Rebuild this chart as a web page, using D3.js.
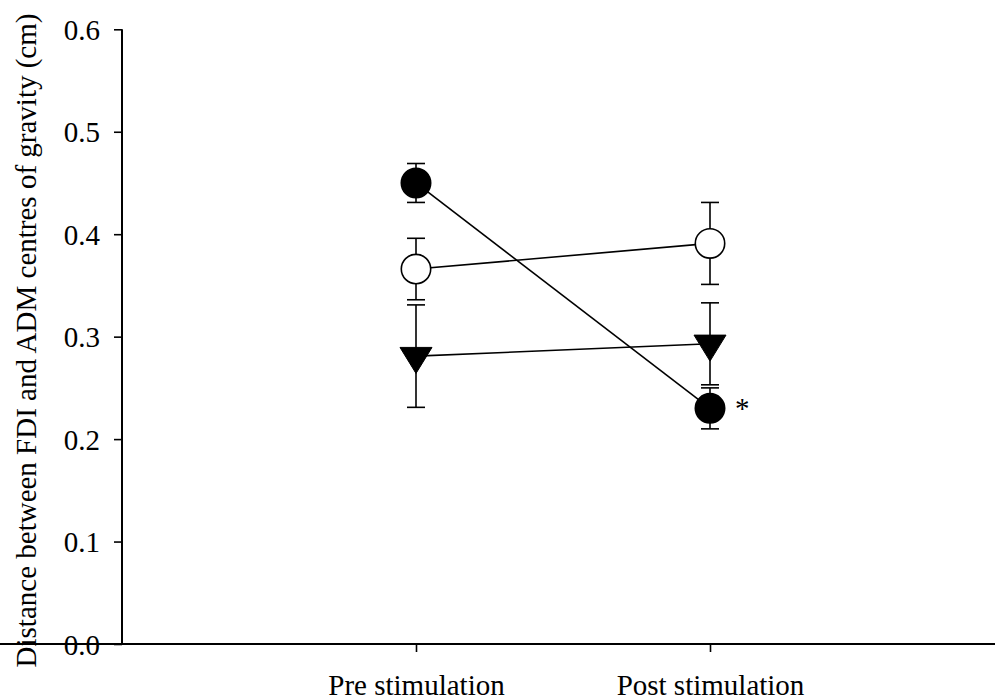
<!DOCTYPE html>
<html>
<head>
<meta charset="utf-8">
<script src="https://cdn.jsdelivr.net/npm/d3@7"></script>
<style>
  body { margin: 0; background: #fff; }
  text { font-family: "Liberation Serif", "Times New Roman", serif; fill: #000; }
</style>
</head>
<body>
<svg id="chart" width="995" height="700"></svg>
<script>
// ----------

const CONDITIONS = ["Pre stimulation", "Post stimulation"];
const FILLED_CIRCLE_MEAN = [0.450, 0.230];
const FILLED_CIRCLE_ERR = [0.019, 0.020];
const OPEN_CIRCLE_MEAN = [0.366, 0.391];
const OPEN_CIRCLE_ERR = [0.030, 0.040];
const TRIANGLE_MEAN = [0.281, 0.293];
const TRIANGLE_ERR = [0.050, 0.040];
const Y_TICKS = [0.0, 0.1, 0.2, 0.3, 0.4, 0.5, 0.6];
const Y_LABEL = "Distance between FDI and ADM centres of gravity (cm)";
const SIGNIFICANT = ["", "*"];

const FONT_SIZE = 29;

// ----------

const svg = d3.select("#chart");

const x = d3.scalePoint().domain(CONDITIONS).range([122, 1004]).padding(1);
const y = d3.scaleLinear().domain([0, 0.6]).range([644, 29.3]);

// axes
const yAxis = svg.append("g")
  .attr("transform", "translate(122,0)")
  .call(d3.axisLeft(y).tickValues(Y_TICKS).tickFormat(d3.format(".1f")).tickSize(8).tickPadding(14));

const xAxis = svg.append("g")
  .attr("transform", "translate(0,644)")
  .call(d3.axisBottom(x).tickSize(8).tickPadding(22));

[yAxis, xAxis].forEach(function (g) {
  g.select(".domain").attr("stroke", "#000").attr("stroke-width", 2);
  g.selectAll(".tick line").attr("stroke", "#000").attr("stroke-width", 1.6);
  g.selectAll(".tick text").attr("font-size", FONT_SIZE).attr("font-family", null).attr("fill", "#000");
});
yAxis.select(".domain").attr("d", "M0,644V29.3");
xAxis.select(".domain").attr("d", "M0,0H1004");
yAxis.selectAll(".tick text").attr("dy", "0.35em");
xAxis.selectAll(".tick text").attr("dy", "0.71em");

svg.append("text")
  .attr("transform", "translate(36," + 340.5 + ") rotate(-90)")
  .attr("text-anchor", "middle")
  .attr("font-size", FONT_SIZE)
  .text(Y_LABEL);

// ----------

const series = [
  { mean: OPEN_CIRCLE_MEAN, err: OPEN_CIRCLE_ERR, shape: "circle", fill: "#fff" },
  { mean: TRIANGLE_MEAN, err: TRIANGLE_ERR, shape: "triangle", fill: "#000" },
  { mean: FILLED_CIRCLE_MEAN, err: FILLED_CIRCLE_ERR, shape: "circle", fill: "#000" }
];

const line = d3.line()
  .x(function (d, i) { return x(CONDITIONS[i]); })
  .y(function (d) { return y(d); });

// error bars
series.forEach(function (s) {
  s.mean.forEach(function (m, i) {
    const cx = x(CONDITIONS[i]);
    const g = svg.append("g").attr("stroke", "#000").attr("stroke-width", 1.6);
    g.append("line").attr("x1", cx).attr("x2", cx).attr("y1", y(m - s.err[i])).attr("y2", y(m + s.err[i]));
    [m - s.err[i], m + s.err[i]].forEach(function (v) {
      g.append("line").attr("x1", cx - 9).attr("x2", cx + 9).attr("y1", y(v)).attr("y2", y(v));
    });
  });
});

// connecting lines
series.forEach(function (s) {
  svg.append("path")
    .attr("d", line(s.mean))
    .attr("fill", "none")
    .attr("stroke", "#000")
    .attr("stroke-width", 1.6);
});

// markers
series.forEach(function (s) {
  s.mean.forEach(function (m, i) {
    const cx = x(CONDITIONS[i]);
    const cy = y(m);
    if (s.shape === "circle") {
      svg.append("circle")
        .attr("cx", cx).attr("cy", cy).attr("r", 14.7)
        .attr("fill", s.fill).attr("stroke", "#000").attr("stroke-width", 1.6);
    } else {
      const pts = [[cx - 16, cy - 8.7], [cx + 16, cy - 8.7], [cx, cy + 17.3]];
      svg.append("path")
        .attr("d", "M" + pts.join("L") + "Z")
        .attr("fill", s.fill).attr("stroke", "#000").attr("stroke-width", 1);
    }
  });
});

// significance marks
SIGNIFICANT.forEach(function (mark, i) {
  if (!mark) return;
  svg.append("text")
    .attr("x", x(CONDITIONS[i]) + 25)
    .attr("y", y(FILLED_CIRCLE_MEAN[i]) + 10)
    .attr("font-size", FONT_SIZE)
    .text(mark);
});
</script>
</body>
</html>
